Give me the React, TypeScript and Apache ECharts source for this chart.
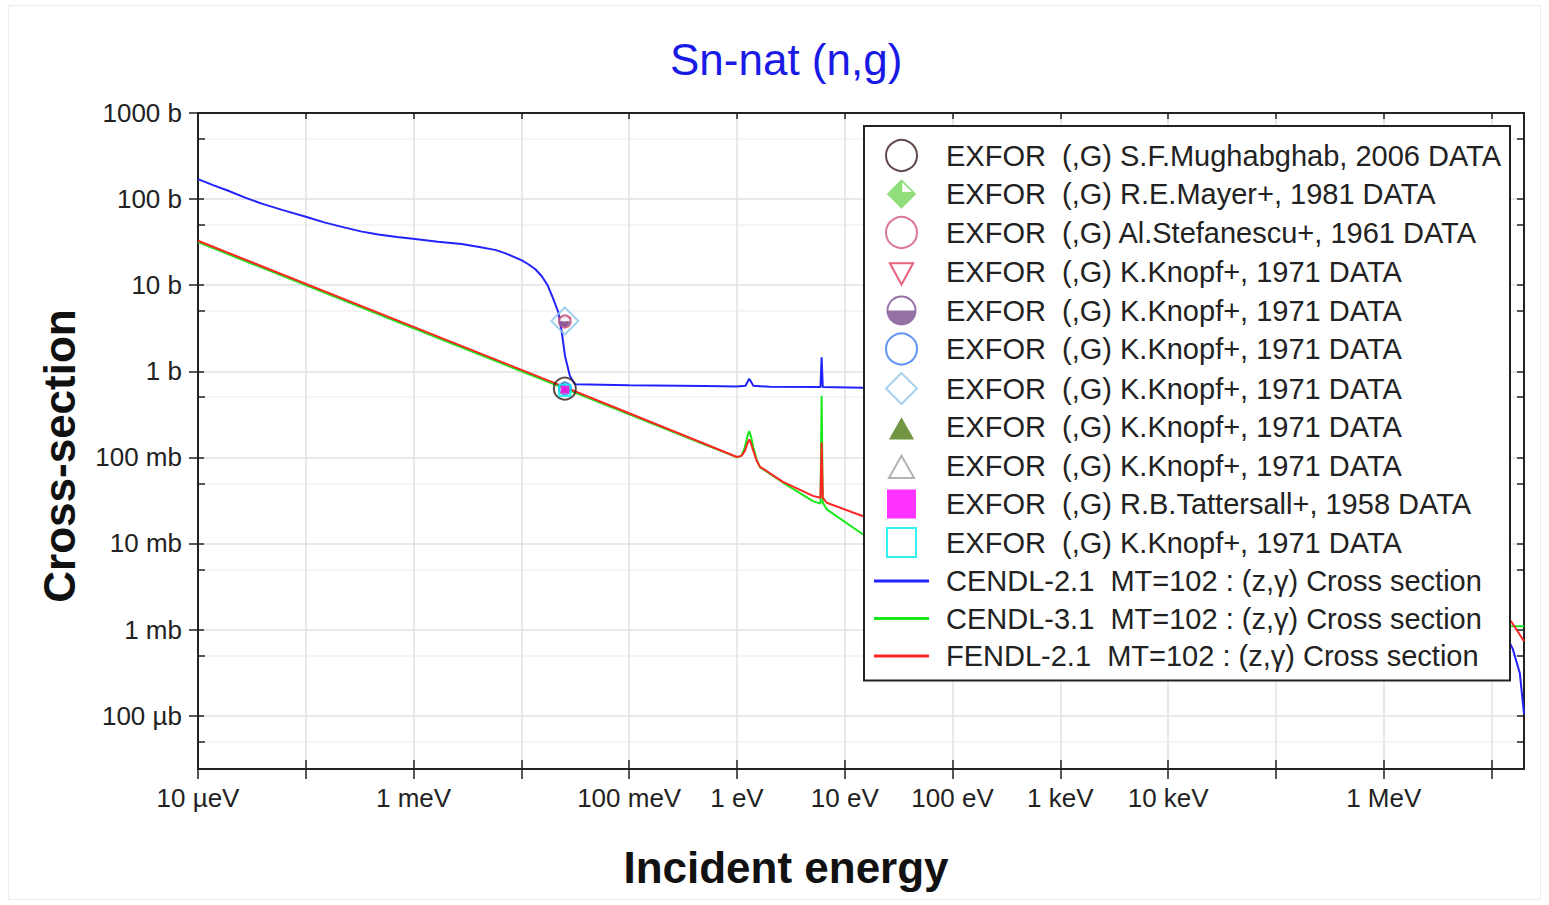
import { useEffect, useRef } from 'react';
import * as echarts from 'echarts';

const W = 1549;
const H = 905;

// ---------- data: energies in eV, cross-sections in barns ----------
const cendl21E = [1.0e-5, 1.38e-5, 1.91e-5, 2.73e-5, 3.9e-5, 6.14e-5, 9.83e-5, 1.51e-4, 2.31e-4, 3.32e-4, 4.71e-4, 7.02e-4, 1.03e-3, 1.68e-3, 2.79e-3, 3.95e-3, 5.69e-3, 7.04e-3, 8.73e-3, 0.0101, 0.0116, 0.0134, 0.0154, 0.0175, 0.0198, 0.022, 0.0237, 0.0254, 0.0282, 0.0314, 0.1, 0.5, 1.0, 1.2, 1.3, 1.42, 2.0, 5.95, 6.1, 6.25, 14.8, 100, 1000, 1e4, 1e5, 1e6, 5e6, 1e7, 1.57e7, 1.83e7, 2e7];
const cendl21S = [170.9, 145.5, 124.9, 104.1, 88.6, 74.5, 62.9, 53.3, 46.6, 41.9, 38.7, 36.2, 34.3, 32.0, 30.0, 28.0, 25.7, 23.6, 21.0, 19.4, 17.5, 15.4, 12.8, 10.0, 6.87, 4.85, 2.84, 1.5, 0.88, 0.706, 0.69, 0.675, 0.665, 0.68, 0.82, 0.68, 0.66, 0.655, 1.45, 0.655, 0.645, 0.55, 0.4, 0.25, 0.09, 0.03, 0.006, 0.0018, 6.0e-4, 3.1e-4, 1.05e-4];

const cendl31E = [1e-5, 1e-3, 0.0253, 0.1, 0.45, 0.8, 1.0, 1.1, 1.18, 1.25, 1.3, 1.35, 1.42, 1.52, 1.63, 2.67, 5.06, 5.95, 6.1, 6.25, 6.8, 14.8, 100, 1000, 1e4, 1e5, 1e6, 5e6, 1e7, 1.5e7, 2e7];
const cendl31S = [31.6, 3.16, 0.63, 0.316, 0.149, 0.112, 0.1, 0.104, 0.13, 0.175, 0.202, 0.175, 0.13, 0.095, 0.077, 0.051, 0.031, 0.029, 0.516, 0.03, 0.0249, 0.0127, 0.02, 0.15, 0.3, 0.12, 0.05, 0.008, 0.002, 1.09e-3, 1.09e-3];

const fendl21E = [1e-5, 1e-3, 0.0253, 0.1, 0.45, 0.8, 1.0, 1.1, 1.18, 1.25, 1.3, 1.35, 1.42, 1.52, 1.63, 2.67, 5.06, 5.95, 6.1, 6.25, 6.8, 14.8, 100, 1000, 1e4, 1e5, 1e6, 5e6, 1e7, 1.55e7, 2e7];
const fendl21S = [32.8, 3.28, 0.655, 0.325, 0.152, 0.113, 0.101, 0.104, 0.118, 0.145, 0.162, 0.145, 0.118, 0.092, 0.078, 0.052, 0.0357, 0.034, 0.149, 0.034, 0.0297, 0.0207, 0.03, 0.15, 0.3, 0.12, 0.05, 0.008, 0.0025, 1.2e-3, 7.3e-4];

const exforLabels = [
  'EXFOR  (,G) S.F.Mughabghab, 2006 DATA',
  'EXFOR  (,G) R.E.Mayer+, 1981 DATA',
  'EXFOR  (,G) Al.Stefanescu+, 1961 DATA',
  'EXFOR  (,G) K.Knopf+, 1971 DATA',
  'EXFOR  (,G) K.Knopf+, 1971 DATA',
  'EXFOR  (,G) K.Knopf+, 1971 DATA',
  'EXFOR  (,G) K.Knopf+, 1971 DATA',
  'EXFOR  (,G) K.Knopf+, 1971 DATA',
  'EXFOR  (,G) K.Knopf+, 1971 DATA',
  'EXFOR  (,G) R.B.Tattersall+, 1958 DATA',
  'EXFOR  (,G) K.Knopf+, 1971 DATA',
];
const exforE = [0.0253, 0.0253, 0.0253, 0.0253, 0.0253, 0.0253, 0.0253, 0.0253, 0.0253, 0.0253, 0.0253];
const exforS = [0.63, 0.66, 3.8, 3.8, 3.8, 0.63, 3.84, 0.63, 0.63, 0.62, 0.6];

const lineLabels = [
  'CENDL-2.1  MT=102 : (z,γ) Cross section',
  'CENDL-3.1  MT=102 : (z,γ) Cross section',
  'FENDL-2.1  MT=102 : (z,γ) Cross section',
];

const xRange = [1e-5, 2e7];
const yRange = [2.4e-5, 1000];
const xTickValues = [1e-5, 1e-4, 1e-3, 1e-2, 1e-1, 1, 10, 100, 1e3, 1e4, 1e5, 1e6, 1e7];
const xLabelValues = [1e-5, 1e-3, 1e-1, 1, 10, 100, 1e3, 1e4, 1e6];
const xLabelTexts = ['10 µeV', '1 meV', '100 meV', '1 eV', '10 eV', '100 eV', '1 keV', '10 keV', '1 MeV'];
const yTickValues = [1e-4, 1e-3, 1e-2, 1e-1, 1, 10, 100, 1000];
const yLabelTexts = ['100 µb', '1 mb', '10 mb', '100 mb', '1 b', '10 b', '100 b', '1000 b'];
const yMinorValues = [5e-5, 5e-4, 5e-3, 5e-2, 0.5, 5, 50, 500];

// ---------- styles ----------
const svgUri = (s: string) => 'image://data:image/svg+xml;charset=utf-8,' + encodeURIComponent(s);
const halfCircle = svgUri('<svg xmlns="http://www.w3.org/2000/svg" width="32" height="32" viewBox="0 0 32 32"><circle cx="16" cy="16" r="14.5" fill="white" stroke="#7a4f90" stroke-width="2"/><path d="M1.5 16 A14.5 14.5 0 0 0 30.5 16 Z" fill="#7a4f90"/></svg>');
const mayerDiamond = svgUri('<svg xmlns="http://www.w3.org/2000/svg" width="40" height="40" viewBox="0 0 40 40"><polygon points="20,1 39,20 20,39 1,20" fill="#74d65a"/><polygon points="21,5 33.5,17.5 21,17.5" fill="white"/></svg>');
const downTri = 'path://M0 0M32 32M4 7L28 7L16 29Z';
const upTri = 'path://M0 0M32 32M16 6L29 29L3 29Z';
const diamondP = 'path://M16 0L32 16L16 32L0 16Z';
const squareP = 'path://M0 0M32 32M1 1L31 1L31 31L1 31Z';

const CLEAR = 'rgba(255,255,255,0)';
const exforStyles = [
  { symbol: 'circle', size: 22, fill: CLEAR, stroke: '#3a1c1c', lw: 2 },
  { symbol: mayerDiamond, size: 13, fill: '#74d65a', stroke: '#74d65a', lw: 0 },
  { symbol: 'circle', size: 12, fill: CLEAR, stroke: '#d1567a', lw: 2 },
  { symbol: downTri, size: 13, fill: CLEAR, stroke: '#e23c5c', lw: 2 },
  { symbol: halfCircle, size: 12, fill: '#7a4f90', stroke: '#7a4f90', lw: 0 },
  { symbol: 'circle', size: 12, fill: CLEAR, stroke: '#3b7bf0', lw: 2 },
  { symbol: diamondP, size: 27, fill: CLEAR, stroke: '#8ec6ea', lw: 2 },
  { symbol: upTri, size: 11, fill: '#4d7a12', stroke: '#4d7a12', lw: 0 },
  { symbol: upTri, size: 11, fill: CLEAR, stroke: '#a0a0a0', lw: 1.5 },
  { symbol: squareP, size: 9, fill: '#ff00ff', stroke: '#ff00ff', lw: 0 },
  { symbol: squareP, size: 12, fill: CLEAR, stroke: '#00eeee', lw: 2 },
];
const lineColors = ['#2222ff', '#18e818', '#ff2525'];

const lg = Math.log10;
const pairs = (E: number[], S: number[]) => E.map((e, i) => [lg(e), lg(S[i])]);
const pick = (vals: number[], texts: string[]) => (v: number) => {
  const i = vals.findIndex((t) => Math.abs(lg(t) - v) < 1e-6);
  return i >= 0 ? texts[i] : '';
};

const FONT = "'Liberation Sans', Arial, sans-serif";
const AX = '#222';

function buildOption(): any {
  const labelMap: Record<string, string> = {};
  const scatters: any[] = [];
  const lines: any[] = [];
  const legendData: any[] = [];

  exforLabels.forEach((lab, i) => {
    const id = 'exfor' + i;
    labelMap[id] = lab;
    const st = exforStyles[i];
    scatters.push({
      type: 'scatter',
      name: id,
      z: 5,
      symbol: st.symbol,
      symbolSize: st.size,
      symbolKeepAspect: true,
      itemStyle: { color: st.fill, borderColor: st.stroke, borderWidth: st.lw },
      data: [[lg(exforE[i]), lg(exforS[i])]],
    });
    legendData.push({ name: id });
  });

  const lineSets = [
    [cendl21E, cendl21S],
    [cendl31E, cendl31S],
    [fendl21E, fendl21S],
  ];
  lineLabels.forEach((lab, i) => {
    const id = 'line' + i;
    labelMap[id] = lab;
    lines.push({
      type: 'line',
      name: id,
      z: 2,
      symbol: 'none',
      showSymbol: false,
      smooth: false,
      lineStyle: { color: lineColors[i], width: 2 },
      itemStyle: { color: lineColors[i] },
      data: pairs(lineSets[i][0], lineSets[i][1]),
    });
    legendData.push({ name: id, icon: 'path://M0 0L55 0L55 3L0 3Z' });
  });

  const xMin = lg(xRange[0]);
  const xMax = lg(xRange[1]);
  const yMin = lg(yRange[0]);
  const yMax = lg(yRange[1]);
  const xTicks = xTickValues.map(lg);
  const yTicks = yTickValues.map(lg);
  const yMinor = yMinorValues.map(lg);

  const baseX = { type: 'value', gridIndex: 0, min: xMin, max: xMax, interval: 1 };
  const baseY = { type: 'value', gridIndex: 0, min: yMin, max: yMax };

  return {
    animation: false,
    backgroundColor: '#fff',
    title: {
      text: 'Sn-nat (n,g)',
      left: 665,
      top: 32,
      textStyle: { color: '#1a1ae6', fontSize: 44, fontWeight: 'normal', fontFamily: FONT },
    },
    graphic: [
      {
        type: 'rect',
        silent: true,
        shape: { x: 8.5, y: 5.5, width: 1532, height: 894 },
        style: { fill: 'none', stroke: '#ececec', lineWidth: 1 },
      },
    ],
    grid: { left: 198, top: 113, width: 1326, height: 656, containLabel: false },
    legend: {
      orient: 'vertical',
      left: 864,
      top: 126,
      padding: [13, 9, 9, 10],
      itemWidth: 55,
      itemHeight: 31,
      itemGap: 6.5,
      symbolKeepAspect: true,
      backgroundColor: '#fff',
      borderColor: AX,
      borderWidth: 2,
      selectedMode: false,
      textStyle: { fontSize: 29, fontFamily: FONT, color: '#222', padding: [0, 0, 0, 12], lineHeight: 31 },
      formatter: (n: string) => labelMap[n],
      data: legendData,
    },
    xAxis: [
      {
        ...baseX,
        position: 'bottom',
        axisLine: { show: true, onZero: false, lineStyle: { color: AX, width: 2 } },
        axisTick: { show: true, inside: false, length: 10, customValues: xTicks, lineStyle: { color: AX, width: 1.5 } },
        axisLabel: {
          show: true,
          customValues: xLabelValues.map(lg),
          formatter: pick(xLabelValues, xLabelTexts),
          fontSize: 26,
          fontFamily: FONT,
          color: '#222',
          margin: 16,
        },
        splitLine: { show: true, lineStyle: { color: '#e2e2e2', width: 1.5 } },
        name: 'Incident energy',
        nameLocation: 'middle',
        nameGap: 76,
        nameTextStyle: { fontSize: 44, fontWeight: 'bold', color: '#111', fontFamily: FONT, padding: [0, 150, 0, 0] },
      },
      {
        ...baseX,
        position: 'bottom',
        axisLine: { show: false, onZero: false },
        axisTick: { show: true, inside: true, length: 9, customValues: xTicks, lineStyle: { color: AX, width: 1.5 } },
        axisLabel: { show: false },
        splitLine: { show: false },
      },
      {
        ...baseX,
        position: 'top',
        axisLine: { show: true, onZero: false, lineStyle: { color: AX, width: 2 } },
        axisTick: { show: true, inside: true, length: 6, customValues: xTicks, lineStyle: { color: AX, width: 1.5 } },
        axisLabel: { show: false },
        splitLine: { show: false },
      },
    ],
    yAxis: [
      {
        ...baseY,
        position: 'left',
        axisLine: { show: true, onZero: false, lineStyle: { color: AX, width: 2 } },
        axisTick: { show: true, inside: false, length: 9, customValues: yTicks, lineStyle: { color: AX, width: 1.5 } },
        axisLabel: {
          show: true,
          customValues: yTicks,
          formatter: pick(yTickValues, yLabelTexts),
          fontSize: 26,
          fontFamily: FONT,
          color: '#222',
          margin: 16,
        },
        splitLine: { show: true, lineStyle: { color: '#e2e2e2', width: 1.5 } },
        name: 'Cross-section',
        nameLocation: 'middle',
        nameRotate: 90,
        nameGap: 117,
        nameTextStyle: { fontSize: 44, fontWeight: 'bold', color: '#111', fontFamily: FONT, padding: [0, 30, 0, 0] },
      },
      {
        ...baseY,
        position: 'left',
        axisLine: { show: false, onZero: false },
        axisTick: { show: true, inside: true, length: 6, customValues: yTicks, lineStyle: { color: AX, width: 1.5 } },
        axisLabel: { show: false },
        splitLine: { show: false },
      },
      {
        ...baseY,
        position: 'left',
        axisLine: { show: false, onZero: false },
        axisTick: { show: true, inside: true, length: 7, customValues: yMinor, lineStyle: { color: AX, width: 1.5 } },
        axisLabel: { show: false },
        splitLine: { show: true, lineStyle: { color: '#f2f2f2', width: 1.5 } },
      },
      {
        ...baseY,
        position: 'right',
        axisLine: { show: true, onZero: false, lineStyle: { color: AX, width: 2 } },
        axisTick: { show: true, inside: true, length: 7, customValues: [...yTicks, ...yMinor], lineStyle: { color: AX, width: 1.5 } },
        axisLabel: { show: false },
        splitLine: { show: false },
      },
    ],
    series: [...lines, ...scatters].map((s) => ({ ...s, xAxisIndex: 0, yAxisIndex: 0 })),
  };
}

export default function App() {
  const ref = useRef<HTMLDivElement>(null);
  useEffect(() => {
    if (!ref.current) return;
    const chart = echarts.init(ref.current, null, { renderer: 'svg' });
    chart.setOption(buildOption());
    return () => chart.dispose();
  }, []);
  return (
    <div
      ref={ref}
      style={{ position: 'fixed', left: 0, top: 0, width: W, height: H, background: '#fff' }}
    />
  );
}
